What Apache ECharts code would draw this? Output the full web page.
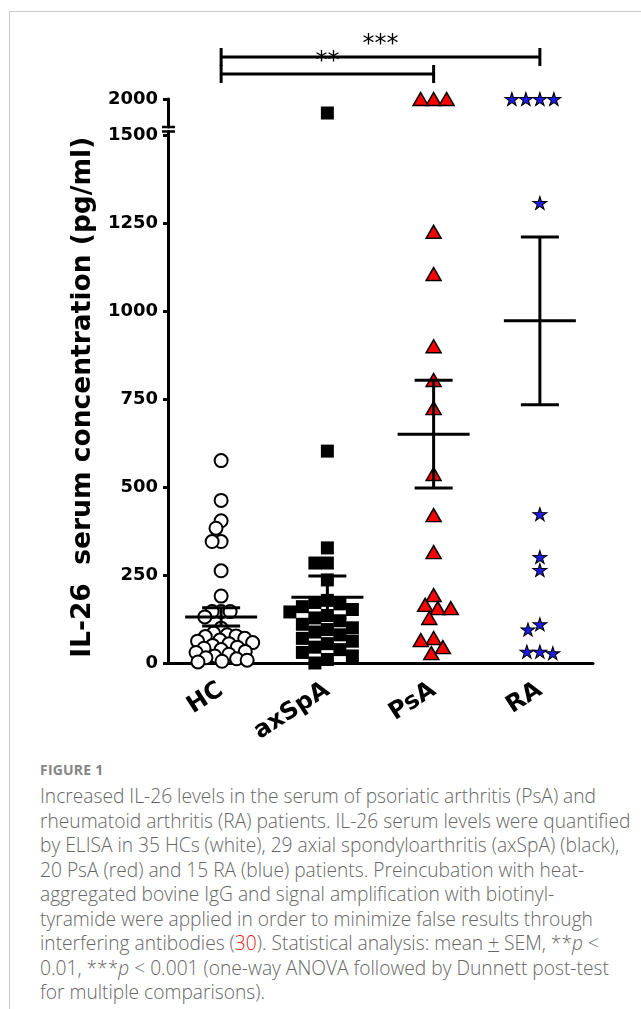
<!DOCTYPE html>
<html><head><meta charset="utf-8">
<script src="https://cdn.jsdelivr.net/npm/echarts@6/dist/echarts.min.js"></script>
<style>
html,body{margin:0;padding:0;background:#fff;width:641px;height:1009px;overflow:hidden;position:relative}
#frame{position:absolute;left:9px;top:11px;width:800px;height:1200px;border-left:1px solid #c8c8c8;border-top:1px solid #c8c8c8;box-sizing:border-box}
#chart{position:absolute;left:0;top:0;width:641px;height:760px}
#fig{position:absolute;left:40px;top:760px;font-family:"Open Sans";font-weight:bold;font-size:14px;color:#858585;letter-spacing:0.2px}
#caption{position:absolute;left:40px;top:784px;font-family:"Open Sans";font-weight:300;color:#666;font-size:19.2px;line-height:24.5px;white-space:nowrap}
#caption .ref{color:#e0221a}
</style></head>
<body>
<div id="frame"></div>
<div id="chart"></div>
<div id="fig">FIGURE 1</div>
<div id="caption">Increased IL-26 levels in the serum of psoriatic arthritis (PsA) and<br>rheumatoid arthritis (RA) patients. IL-26 serum levels were quantified<br>by ELISA in 35 HCs (white), 29 axial spondyloarthritis (axSpA) (black),<br>20 PsA (red) and 15 RA (blue) patients. Preincubation with heat-<br>aggregated bovine IgG and signal amplification with biotinyl-<br>tyramide were applied in order to minimize false results through<br>interfering antibodies (<span class="ref">30</span>). Statistical analysis: mean <u>+</u> SEM, **<i>p</i> &lt;<br>0.01, ***<i>p</i> &lt; 0.001 (one-way ANOVA followed by Dunnett post-test<br>for multiple comparisons).</div>
<script>
const categories = ['HC', 'axSpA', 'PsA', 'RA'];
const hcValues = [575, 462, 404, 383, 345, 345, 262, 190, 146, 146, 146, 131, 99,
  85, 80, 77, 75, 70, 65, 62, 58, 55, 50, 45, 42, 38, 33, 30, 25, 20, 15, 12, 8, 5, 3];
const axspaValues = [602, 327, 284, 284, 236, 178, 172, 168, 160, 152, 145, 135, 128, 120,
  110, 100, 95, 88, 80, 70, 62, 55, 45, 38, 30, 20, 10, 0];
const axspaUpper = [1750];
const psaValues = [1225, 1105, 900, 804, 724, 537, 420, 315, 193, 165, 156, 156, 128, 71, 65, 45, 28];
const psaUpper = [2000, 2000, 2000];
const raValues = [1307, 423, 301, 264, 110, 95, 32, 32, 28];
const raUpper = [2000, 2000, 2000, 2000];
const means = [131, 187, 650, 972];
const sems = [26, 60, 153, 238];
const yTicksLower = [0, 250, 500, 750, 1000, 1250, 1500];
const yTicksUpper = [2000];
const lowerMax = 1510;
const upperMin = 1500, upperMax = 2000;
const brackets = [
  { from: 0, to: 2, level: 0, label: '**' },
  { from: 0, to: 3, level: 1, label: '***' }
];
const yName = 'IL-26  serum concentration (pg/ml)';

const STAR = 'path://M50,0 L61,35 L98,35 L68,57 L79,91 L50,70 L21,91 L32,57 L2,35 L39,35 Z';
const boldFont = 'DejaVu Sans';
const chart = echarts.init(document.getElementById('chart'), null, { renderer: 'canvas' });

const hiddenX = (g) => ({ gridIndex: g, type: 'value', min: -0.5, max: 3.5, show: false });
const lineStyle3 = { color: '#000', width: 3 };
const plain = v => String(v);

function scatter(id, name, xi, yi, vals, cat, sym, size, style) {
  return { id, name, type: 'scatter', xAxisIndex: xi, yAxisIndex: yi, clip: false, z: 2,
    symbol: sym, symbolSize: size, itemStyle: style,
    data: vals.map(v => [cat, v]) };
}
const circStyle = { color: '#fff', borderColor: '#000', borderWidth: 2, opacity: 1 };
const rectStyle = { color: '#000', opacity: 1 };
const triStyle = { color: '#ff0000', borderColor: '#000', borderWidth: 1.5, opacity: 1 };
const starStyle = { color: '#1c1ce8', borderColor: '#000', borderWidth: 1, opacity: 1 };

const series = [
  scatter('hc', 'HC', 1, 0, hcValues, 0, 'circle', 13, circStyle),
  scatter('ax', 'axSpA', 1, 0, axspaValues, 1, 'rect', 13, rectStyle),
  scatter('axU', 'axSpA', 2, 1, axspaUpper, 1, 'rect', 13, rectStyle),
  scatter('psa', 'PsA', 1, 0, psaValues, 2, 'triangle', [15, 13], triStyle),
  scatter('psaU', 'PsA', 2, 1, psaUpper, 2, 'triangle', [15, 13], triStyle),
  scatter('ra', 'RA', 1, 0, raValues, 3, STAR, [14, 13], starStyle),
  scatter('raU', 'RA', 2, 1, raUpper, 3, STAR, [14, 13], starStyle),
  {
    id: 'err', type: 'custom', xAxisIndex: 1, yAxisIndex: 0, z: 5, clip: false,
    data: means.map((m, i) => [i, m, sems[i]]),
    renderItem(params, api) {
      const x = api.value(0), m = api.value(1), s = api.value(2);
      const c = api.coord([x, m]), hi = api.coord([x, m + s]), lo = api.coord([x, m - s]);
      const st = { stroke: '#000', lineWidth: 3 };
      return { type: 'group', children: [
        { type: 'line', shape: { x1: c[0] - 36, y1: c[1], x2: c[0] + 36, y2: c[1] }, style: st },
        { type: 'line', shape: { x1: c[0], y1: hi[1], x2: c[0], y2: lo[1] }, style: st },
        { type: 'line', shape: { x1: c[0] - 19, y1: hi[1], x2: c[0] + 19, y2: hi[1] }, style: st },
        { type: 'line', shape: { x1: c[0] - 19, y1: lo[1], x2: c[0] + 19, y2: lo[1] }, style: st }
      ]};
    }
  },
  {
    id: 'brkLow', type: 'custom', xAxisIndex: 1, yAxisIndex: 0, z: 6, clip: false,
    data: [[-0.5, lowerMax]],
    renderItem(params, api) {
      const p = api.coord([api.value(0), api.value(1)]);
      return { type: 'line', shape: { x1: p[0] - 6, y1: p[1], x2: p[0] + 7, y2: p[1] }, style: { stroke: '#000', lineWidth: 2.5 } };
    }
  },
  {
    id: 'brkUp', type: 'custom', xAxisIndex: 2, yAxisIndex: 1, z: 6, clip: false,
    data: [[-0.5, upperMin]],
    renderItem(params, api) {
      const p = api.coord([api.value(0), api.value(1)]);
      return { type: 'line', shape: { x1: p[0] - 6, y1: p[1], x2: p[0] + 7, y2: p[1] }, style: { stroke: '#000', lineWidth: 2.5 } };
    }
  },
  {
    id: 'brackets', type: 'custom', xAxisIndex: 3, yAxisIndex: 2, z: 6, clip: false,
    data: brackets.map(b => [b.from, b.to, b.level]),
    renderItem(params, api) {
      const a = api.coord([api.value(0), api.value(2)]);
      const b = api.coord([api.value(1), api.value(2)]);
      const lbl = brackets[params.dataIndex].label;
      const st = { stroke: '#000', lineWidth: 3 };
      return { type: 'group', children: [
        { type: 'line', shape: { x1: a[0], y1: a[1], x2: b[0], y2: b[1] }, style: st },
        { type: 'line', shape: { x1: a[0], y1: a[1] - 9, x2: a[0], y2: a[1] + 9 }, style: st },
        { type: 'line', shape: { x1: b[0], y1: b[1] - 9, x2: b[0], y2: b[1] + 9 }, style: st },
        { type: 'text', x: (a[0] + b[0]) / 2, y: a[1],
          style: { text: lbl, fill: '#000', font: '24px "DejaVu Sans"', align: 'center', verticalAlign: 'bottom' } }
      ]};
    }
  }
];

const option = {
  animation: false,
  grid: [
    { left: 168, width: 425, top: 131.5, height: 531.5, outerBoundsMode: 'none' },
    { left: 168, width: 425, top: 99, height: 28, outerBoundsMode: 'none' },
    { left: 168, width: 425, top: 57, height: 17, outerBoundsMode: 'none' }
  ],
  xAxis: [
    { gridIndex: 0, type: 'category', data: categories, position: 'bottom',
      axisLine: { lineStyle: lineStyle3 },
      axisTick: { alignWithLabel: true, length: 6, lineStyle: lineStyle3 },
      axisLabel: { rotate: 33, margin: 25, color: '#000', fontFamily: boldFont, fontWeight: 'bold', fontSize: 24 },
      splitLine: { show: false } },
    hiddenX(0), hiddenX(1), hiddenX(2)
  ],
  yAxis: [
    { gridIndex: 0, type: 'value', min: 0, max: lowerMax, position: 'left',
      name: yName, nameLocation: 'middle', nameGap: 70,
      nameTextStyle: { fontFamily: boldFont, fontWeight: 'bold', fontSize: 26.5, color: '#000' },
      axisLine: { show: true, onZero: false, lineStyle: lineStyle3 },
      axisTick: { show: true, length: 5, lineStyle: lineStyle3, customValues: yTicksLower },
      axisLabel: { color: '#000', fontFamily: boldFont, fontWeight: 'bold', fontSize: 18, margin: 10,
        customValues: yTicksLower, formatter: plain },
      splitLine: { show: false } },
    { gridIndex: 1, type: 'value', min: upperMin, max: upperMax, position: 'left',
      axisLine: { show: true, onZero: false, lineStyle: lineStyle3 },
      axisTick: { show: true, length: 5, lineStyle: lineStyle3, customValues: yTicksUpper },
      axisLabel: { color: '#000', fontFamily: boldFont, fontWeight: 'bold', fontSize: 18, margin: 10,
        customValues: yTicksUpper, formatter: plain },
      splitLine: { show: false } },
    { gridIndex: 2, type: 'value', min: 0, max: 1, show: false }
  ],
  series
};
chart.setOption(option);

// beeswarm layout in pixel space, using the axes' own scales
function swarm(vals, cat, xi, yi, diam, shape) {
  const conv = v => chart.convertToPixel({ xAxisIndex: xi, yAxisIndex: yi }, v);
  const band = conv([1, vals[0]])[0] - conv([0, vals[0]])[0];
  const pts = vals.map(v => ({ v, py: conv([0, v])[1], dx: 0 }));
  const order = pts.slice().sort((a, b) => b.v - a.v);
  const placed = [];
  for (const p of order) {
    const forb = [];
    for (const q of placed) {
      const dy = Math.abs(p.py - q.py);
      if (dy < diam - 1e-6) {
        const w = shape === 'rect' ? diam : Math.sqrt(diam * diam - dy * dy);
        forb.push([q.dx - w, q.dx + w]);
      }
    }
    const cands = [0];
    forb.forEach(f => cands.push(f[0], f[1]));
    cands.sort((a, b) => (Math.abs(a) - Math.abs(b)) || (a - b));
    let chosen = 0;
    for (const c of cands) {
      if (forb.every(f => c <= f[0] + 1e-6 || c >= f[1] - 1e-6)) { chosen = c; break; }
    }
    p.dx = chosen;
    placed.push(p);
  }
  return pts.map(p => [cat + p.dx / band, p.v]);
}
chart.setOption({ series: [
  { id: 'hc', data: swarm(hcValues, 0, 1, 0, 9, 'circle') },
  { id: 'ax', data: swarm(axspaValues, 1, 1, 0, 12.5, 'rect') },
  { id: 'axU', data: swarm(axspaUpper, 1, 2, 1, 13, 'rect') },
  { id: 'psa', data: swarm(psaValues, 2, 1, 0, 13, 'circle') },
  { id: 'psaU', data: swarm(psaUpper, 2, 2, 1, 13, 'circle') },
  { id: 'ra', data: swarm(raValues, 3, 1, 0, 13, 'circle') },
  { id: 'raU', data: swarm(raUpper, 3, 2, 1, 14, 'circle') }
]});
</script>
</body></html>
